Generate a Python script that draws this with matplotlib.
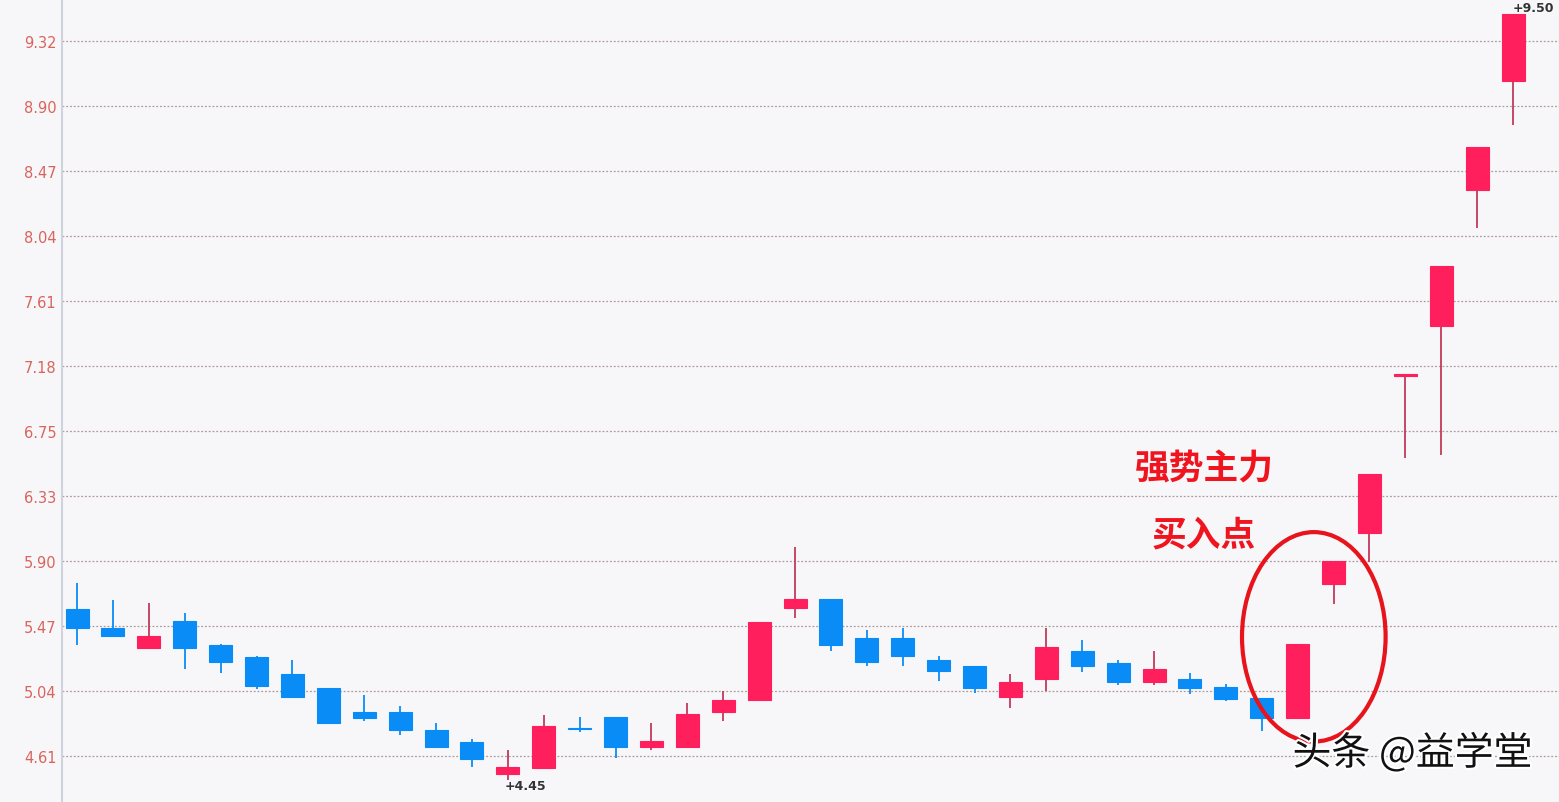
import matplotlib.pyplot as plt
from matplotlib.patches import Ellipse, Rectangle
import matplotlib.patheffects as pe

plt.rcParams['font.family'] = ['Noto Sans CJK SC', 'DejaVu Sans']

# daily prices
opens = [5.58, 5.45, 5.32, 5.50, 5.34, 5.26, 5.15, 5.06, 4.90, 4.90,
         4.78, 4.70, 4.49, 4.53, 4.79, 4.865, 4.67, 4.67, 4.90, 4.98,
         5.585, 5.645, 5.385, 5.39, 5.245, 5.205, 5.00, 5.117, 5.30, 5.22,
         5.10, 5.12, 5.067, 4.99, 4.86, 5.743, 6.08, 7.115, 7.44, 8.34, 9.06]
closes = [5.45, 5.40, 5.40, 5.32, 5.23, 5.07, 5.00, 4.83, 4.86, 4.78,
          4.67, 4.59, 4.54, 4.81, 4.785, 4.67, 4.71, 4.89, 4.98, 5.49,
          5.645, 5.34, 5.227, 5.27, 5.17, 5.06, 5.095, 5.33, 5.205, 5.10,
          5.18, 5.056, 4.985, 4.86, 5.35, 5.892, 6.47, 7.126, 7.84, 8.62, 9.50]
highs = [5.75, 5.64, 5.62, 5.55, 5.35, 5.27, 5.24, 5.06, 5.01, 4.94,
         4.83, 4.72, 4.65, 4.88, 4.865, 4.865, 4.83, 4.96, 5.04, 5.49,
         5.985, 5.645, 5.44, 5.45, 5.27, 5.205, 5.15, 5.45, 5.375, 5.24,
         5.30, 5.16, 5.085, 4.99, 5.35, 5.892, 6.47, 7.126, 7.84, 8.62, 9.50]
lows = [5.34, 5.40, 5.32, 5.18, 5.16, 5.05, 4.99, 4.83, 4.84, 4.75,
        4.66, 4.54, 4.45, 4.53, 4.766, 4.60, 4.65, 4.67, 4.84, 4.98,
        5.52, 5.30, 5.205, 5.205, 5.105, 5.025, 4.925, 5.04, 5.165, 5.08,
        5.08, 5.02, 4.975, 4.773, 4.86, 5.61, 5.89, 6.576, 6.59, 8.09, 8.77]

tick_vals = [4.61, 5.04, 5.47, 5.90, 6.33, 6.75, 7.18, 7.61, 8.04, 8.47, 8.90, 9.32]
tick_pos = [4.61 + i * 0.4282 for i in range(12)]

up_color = '#ff1f5c'
up_wick = '#c23a5a'
down_color = '#0a8cf7'

fig = plt.figure(figsize=(15.59, 8.03), dpi=100)
fig.patch.set_facecolor('#f7f7fa')
ax = fig.add_axes([62 / 1559, 0, 1 - 62 / 1559, 1])
ax.set_facecolor('#f7f7fa')

w = 0.64
for i in range(len(opens)):
    o, c, h, l = opens[i], closes[i], highs[i], lows[i]
    col = up_color if c > o else down_color
    wcol = up_wick if c > o else down_color
    ax.vlines(i, l, h, color=wcol, lw=1.3, zorder=3)
    bottom = min(o, c)
    height = max(abs(c - o), 0.008)
    ax.add_patch(Rectangle((i - w / 2, bottom), w, height,
                           facecolor=col, edgecolor=col, lw=0.8, zorder=4))

ax.set_xlim(-0.42, 41.28)
ax.set_ylim(4.307, 9.597)
ax.set_yticks(tick_pos)
ax.set_yticklabels([f'{v:.2f}' for v in tick_vals], color='#d9645c',
                   fontsize=10.5, family='DejaVu Sans')
ax.tick_params(axis='y', length=0, pad=4)
ax.set_xticks([])
ax.grid(axis='y', color='#b09a9a', linestyle=(0, (1.5, 1.5)), lw=0.9)
for s in ['top', 'right', 'bottom']:
    ax.spines[s].set_visible(False)
ax.spines['left'].set_color('#cfd3de')
ax.spines['left'].set_linewidth(1.5)

# max / min labels
imax = highs.index(max(highs))
imin = lows.index(min(lows))
ax.text(imax, max(highs), f'+{max(highs):.2f}', fontsize=9, fontweight='bold',
        color='#333333', ha='left', va='bottom', family='DejaVu Sans')
ax.text(imin - 0.1, min(lows) + 0.01, f'+{min(lows):.2f}', fontsize=9,
        fontweight='bold', color='#333333', ha='left', va='top',
        family='DejaVu Sans')

# annotation
ax.text(31.4, 6.51, '强势主力', fontsize=25, fontweight='heavy', color='#f0141e',
        ha='center', va='center')
ax.text(31.4, 6.07, '买入点', fontsize=25, fontweight='heavy', color='#f0141e',
        ha='center', va='center')
ax.add_patch(Ellipse((34.45, 5.395), 4.0, 1.38, fill=False,
                     edgecolor='#e8141c', lw=3, zorder=5))

# watermark
fig.text(0.906, 0.06, '头条 @益学堂', fontsize=28, color='#111111',
         ha='center', va='center', fontweight='medium',
         path_effects=[pe.withStroke(linewidth=3, foreground='white')])

plt.savefig('out.png', dpi=100, facecolor=fig.get_facecolor())
